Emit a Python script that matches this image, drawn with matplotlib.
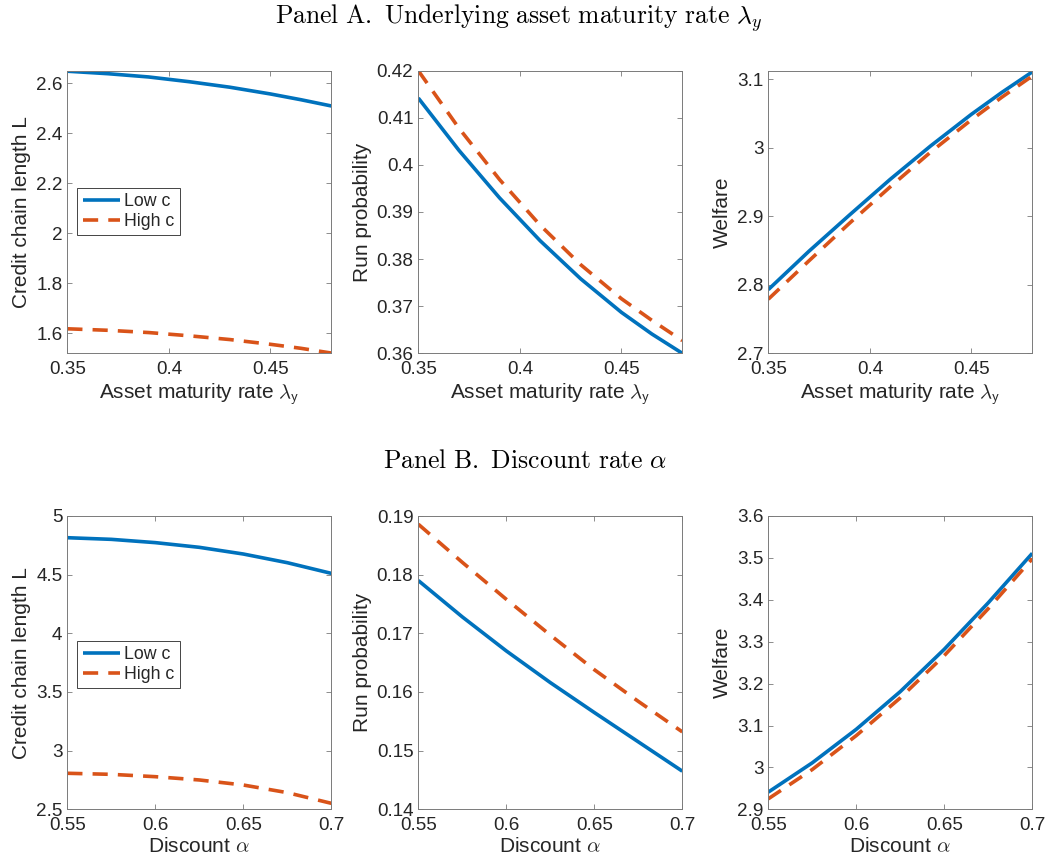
import matplotlib
matplotlib.use("Agg")
import matplotlib.pyplot as plt

# ---------------- data ----------------
lam_x = [0.35, 0.37, 0.39, 0.41, 0.43, 0.45, 0.465, 0.48]
lam_L_low = [2.648, 2.638, 2.625, 2.606, 2.584, 2.557, 2.534, 2.509]
lam_L_high = [1.618, 1.612, 1.603, 1.590, 1.575, 1.556, 1.540, 1.521]
lam_run_low = [0.4142, 0.4031, 0.3930, 0.3839, 0.3758, 0.3687, 0.3641, 0.3600]
lam_run_high = [0.4200, 0.4078, 0.3969, 0.3872, 0.3788, 0.3716, 0.3670, 0.3627]
lam_wel_low = [2.793, 2.849, 2.902, 2.954, 3.003, 3.049, 3.081, 3.111]
lam_wel_high = [2.779, 2.835, 2.890, 2.943, 2.994, 3.041, 3.074, 3.105]

alp_x = [0.55, 0.575, 0.60, 0.625, 0.65, 0.675, 0.70]
alp_L_low = [4.815, 4.801, 4.773, 4.733, 4.676, 4.602, 4.511]
alp_L_high = [2.807, 2.798, 2.778, 2.750, 2.707, 2.642, 2.551]
alp_run_low = [0.1790, 0.1728, 0.1670, 0.1616, 0.1565, 0.1515, 0.1465]
alp_run_high = [0.1886, 0.1821, 0.1758, 0.1697, 0.1638, 0.1584, 0.1532]
alp_wel_low = [2.941, 3.011, 3.091, 3.181, 3.282, 3.393, 3.511]
alp_wel_high = [2.925, 2.995, 3.076, 3.166, 3.267, 3.379, 3.498]

series_labels = ["Low c", "High c"]
ylabels = ["Credit chain length L", "Run probability", "Welfare"]
xlabel_A = r"Asset maturity rate $\lambda_\mathsf{y}$"
xlabel_B = r"Discount $\alpha$"
title_A = r"$\mathrm{Panel\ A.\ Underlying\ asset\ maturity\ rate}\ \lambda_y$"
title_B = r"$\mathrm{Panel\ B.\ Discount\ rate}\ \alpha$"

xlim_A = (0.35, 0.48)
xticks_A = [0.35, 0.4, 0.45]
xticklabels_A = ["0.35", "0.4", "0.45"]
xlim_B = (0.55, 0.70)
xticks_B = [0.55, 0.6, 0.65, 0.7]
xticklabels_B = ["0.55", "0.6", "0.65", "0.7"]

ylims_A = [(1.52, 2.65), (0.36, 0.42), (2.7, 3.1127)]
yticks_A = [[1.6, 1.8, 2.0, 2.2, 2.4, 2.6],
            [0.36, 0.37, 0.38, 0.39, 0.40, 0.41, 0.42],
            [2.7, 2.8, 2.9, 3.0, 3.1]]
yticklabels_A = [["1.6", "1.8", "2", "2.2", "2.4", "2.6"],
                 ["0.36", "0.37", "0.38", "0.39", "0.4", "0.41", "0.42"],
                 ["2.7", "2.8", "2.9", "3", "3.1"]]
ylims_B = [(2.5, 5.0), (0.14, 0.19), (2.9, 3.6)]
yticks_B = [[2.5, 3.0, 3.5, 4.0, 4.5, 5.0],
            [0.14, 0.15, 0.16, 0.17, 0.18, 0.19],
            [2.9, 3.0, 3.1, 3.2, 3.3, 3.4, 3.5, 3.6]]
yticklabels_B = [["2.5", "3", "3.5", "4", "4.5", "5"],
                 ["0.14", "0.15", "0.16", "0.17", "0.18", "0.19"],
                 ["2.9", "3", "3.1", "3.2", "3.3", "3.4", "3.5", "3.6"]]

BLUE = "#0072BD"
ORANGE = "#D95319"
TXT = "#262626"

plt.rcParams["font.family"] = ["Liberation Sans", "DejaVu Sans"]

W, H = 1047, 866
fig = plt.figure(figsize=(W / 100, H / 100), dpi=100)

col_left = [67.3, 418.3, 768.3]
ax_w = 264.0
rows = [(70.7, 353.3), (516.0, 809.3)]

def make_ax(col, row):
    top, bot = rows[row]
    l = col_left[col]
    return fig.add_axes([l / W, 1 - bot / H, ax_w / W, (bot - top) / H])

def style(ax):
    for s in ax.spines.values():
        s.set_color("#7a7a7a")
        s.set_linewidth(0.7)
    ax.tick_params(direction="in", length=3.5, width=0.6, color="#7a7a7a",
                   top=True, right=True, labelsize=13.6, labelcolor=TXT)
    ax.tick_params(axis="x", pad=5.5)
    ax.tick_params(axis="y", pad=3.5)

panels = [
    (lam_x, [(lam_L_low, lam_L_high), (lam_run_low, lam_run_high), (lam_wel_low, lam_wel_high)],
     xlim_A, xticks_A, xticklabels_A, ylims_A, yticks_A, yticklabels_A, xlabel_A, 0.585),
    (alp_x, [(alp_L_low, alp_L_high), (alp_run_low, alp_run_high), (alp_wel_low, alp_wel_high)],
     xlim_B, xticks_B, xticklabels_B, ylims_B, yticks_B, yticklabels_B, xlabel_B, 0.574),
]

for r, (xs, ys, xl, xt, xtl, yls, yts, ytls, xlab, leg_top) in enumerate(panels):
    for c in range(3):
        ax = make_ax(c, r)
        low, high = ys[c]
        ax.plot(xs, low, color=BLUE, lw=2.6, label=series_labels[0], solid_capstyle="butt")
        ln, = ax.plot(xs, high, color=ORANGE, lw=2.6, ls="--", label=series_labels[1])
        ln.set_dashes((4.2, 2.8))
        ax.set_xlim(*xl)
        ax.set_xticks(xt)
        ax.set_xticklabels(xtl)
        ax.set_ylim(*yls[c])
        ax.set_yticks(yts[c])
        ax.set_yticklabels(ytls[c])
        style(ax)
        ax.set_xlabel(xlab, fontsize=15, color=TXT, labelpad=2.5, math_fontfamily="cm")
        ax.set_ylabel(ylabels[c], fontsize=15, color=TXT, labelpad=3.5)
        if c == 0:
            leg = ax.legend(loc="upper left", bbox_to_anchor=(0.038, leg_top),
                            borderaxespad=0, fontsize=12.8, handlelength=2.1,
                            handletextpad=0.25, labelspacing=0.15, borderpad=0.3,
                            fancybox=False, framealpha=1)
            leg.get_frame().set_edgecolor(TXT)
            leg.get_frame().set_linewidth(0.6)
            for t in leg.get_texts():
                t.set_color(TXT)

fig.text(518 / W, 1 - 18 / H, title_A, ha="center", va="center", fontsize=18.5,
         math_fontfamily="cm", color="black")
fig.text(525 / W, 1 - 461 / H, title_B, ha="center", va="center", fontsize=18.5,
         math_fontfamily="cm", color="black")

fig.savefig("out.png", dpi=100)
